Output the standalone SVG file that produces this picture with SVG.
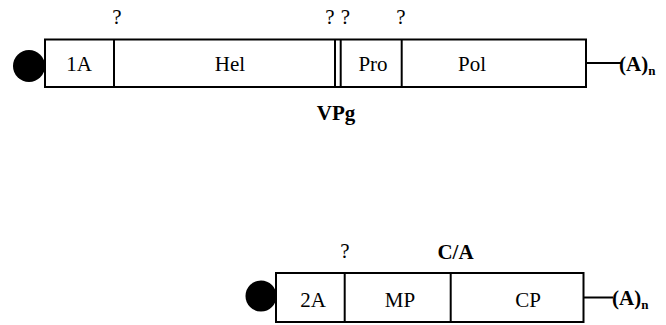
<svg xmlns="http://www.w3.org/2000/svg" width="666" height="325" viewBox="0 0 666 325">
<style>
.box{fill:#fff;stroke:#000;stroke-width:2}
.ln{stroke:#000;stroke-width:2;fill:none}
.cap{fill:#000}
text{font-family:"Liberation Serif","Times New Roman",serif;font-size:21px;fill:#000}
.c{text-anchor:middle}
.b{font-weight:bold}
.sub{font-size:13px;font-weight:bold}
</style>
<rect width="666" height="325" fill="#fff"/>
<g id="connectors">
<line class="ln" x1="586" y1="63" x2="621" y2="63"/>
<line class="ln" x1="583.5" y1="297.5" x2="613" y2="297.5"/>
</g>
<g id="rna1">
<circle class="cap" cx="29" cy="66" r="16"/>
<rect class="box" x="45" y="39.5" width="541" height="47.5"/>
<line class="ln" x1="114" y1="39.5" x2="114" y2="87"/>
<line class="ln" x1="335" y1="39.5" x2="335" y2="87"/>
<line class="ln" x1="340.7" y1="39.5" x2="340.7" y2="87"/>
<line class="ln" x1="401.7" y1="39.5" x2="401.7" y2="87"/>
<text class="c" x="79" y="71">1A</text>
<text class="c" x="230" y="71">Hel</text>
<text class="c" x="373" y="71">Pro</text>
<text class="c" x="472" y="71">Pol</text>
<text class="c" x="117" y="24">?</text>
<text class="c" x="330" y="24">?</text>
<text class="c" x="345.5" y="24">?</text>
<text class="c" x="401" y="24">?</text>
<text class="c b" x="336" y="120">VPg</text>
<text class="b" x="619" y="71">(A)<tspan class="sub" dy="4">n</tspan></text>
</g>
<g id="rna2">
<circle class="cap" cx="261" cy="296" r="15.5"/>
<rect class="box" x="276" y="273" width="307.5" height="49"/>
<line class="ln" x1="344.7" y1="273" x2="344.7" y2="322"/>
<line class="ln" x1="450.7" y1="273" x2="450.7" y2="322"/>
<text class="c" x="313" y="307">2A</text>
<text class="c" x="400" y="307">MP</text>
<text class="c" x="528" y="307">CP</text>
<text class="c" x="345" y="258">?</text>
<text class="c b" x="455.5" y="259">C/A</text>
<text class="b" x="612" y="305">(A)<tspan class="sub" dy="4">n</tspan></text>
</g>
</svg>
